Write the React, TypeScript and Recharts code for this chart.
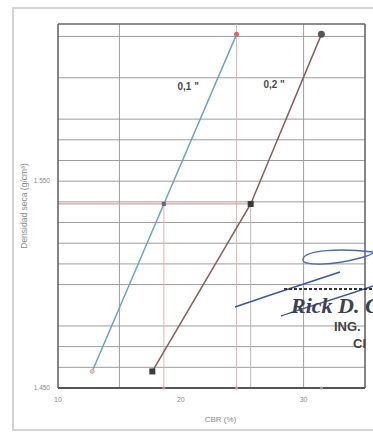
import { LineChart, Line, XAxis, YAxis, CartesianGrid, ReferenceLine, ReferenceDot } from "recharts"

// CBR (%) read at each dry density, for 0.1" and 0.2" penetration
const densidad = [1.458, 1.539, 1.621]
const cbr01 = [12.78, 18.62, 24.54]
const cbr02 = [17.68, 25.69, 31.45]

const xTicks = [10, 20, 30]
const yTicks = [1.45, 1.55]
const yTickLabels = ["1.450", "1.550"]
const xGrid = [15, 30]
const yGrid = [1.46, 1.47, 1.48, 1.5, 1.51, 1.52, 1.53, 1.54, 1.55, 1.56, 1.57, 1.58, 1.6, 1.62]

const serie01 = densidad.map((d, i) => ({ cbr: cbr01[i], dens: d }))
const serie02 = densidad.map((d, i) => ({ cbr: cbr02[i], dens: d }))

const X_DOMAIN: [number, number] = [10, 35]
const Y_DOMAIN: [number, number] = [1.45, 1.626]

const font = "'Liberation Sans', Arial, sans-serif"

const Dot01 = (props: any) => {
  const { cx, cy, index } = props
  if (index === 1) return <rect key={index} x={cx - 2} y={cy - 2} width={4} height={4} fill="#666" />
  if (index === 2) return <circle key={index} cx={cx} cy={cy} r={2.5} fill="#e06666" />
  return <circle key={index} cx={cx} cy={cy} r={2} fill="#f4c4c4" stroke="#d99" strokeWidth={0.8} />
}

const Dot02 = (props: any) => {
  const { cx, cy, index } = props
  if (index === 2) return <circle key={index} cx={cx} cy={cy} r={3.5} fill="#555" />
  return <rect key={index} x={cx - 3} y={cy - 3} width={6} height={6} fill="#3a3a3a" />
}

export default function App() {
  const mid = 1
  return (
    <div style={{ position: "absolute", left: 0, top: 0, width: 373, height: 437, background: "#fff", overflow: "hidden" }}>
      <div
        style={{
          position: "absolute",
          left: 12,
          top: 7,
          width: 380,
          height: 424,
          border: "2px solid #d4d4d4",
          boxSizing: "border-box",
        }}
      />
      <div style={{ position: "absolute", left: 0, top: 0 }}>
        <LineChart width={373} height={437} margin={{ top: 24, right: 8, bottom: 9, left: 0 }}>
          <CartesianGrid
            stroke="#9c9c9c"
            strokeWidth={1}
            horizontalValues={yGrid}
            verticalValues={xGrid}
          />
          <XAxis
            type="number"
            dataKey="cbr"
            domain={X_DOMAIN}
            ticks={xTicks}
            allowDataOverflow
            height={40}
            tickLine={false}
            tickSize={6}
            tickMargin={3}
            axisLine={{ stroke: "#555", strokeWidth: 2.2 }}
            tick={{ fontSize: 7, fill: "#8a8a8a", fontFamily: font }}
            label={{
              value: "CBR (%)",
              position: "insideBottom",
              offset: 6,
              dx: 9,
              style: { fontSize: 8, fill: "#8a8a8a", fontFamily: font },
            }}
          />
          <YAxis
            type="number"
            dataKey="dens"
            domain={Y_DOMAIN}
            ticks={yTicks}
            allowDataOverflow
            width={58}
            tickLine={false}
            tickSize={6}
            tickMargin={2}
            tickFormatter={(v: number) => yTickLabels[yTicks.indexOf(v)] ?? ""}
            axisLine={{ stroke: "#666", strokeWidth: 1.6 }}
            tick={{ fontSize: 6.5, fill: "#8a8a8a", fontFamily: font }}
            label={{
              value: "Densidad seca (g/cm³)",
              angle: -90,
              position: "center",
              dx: -5,
              style: { fontSize: 8.5, fill: "#8a8a8a", fontFamily: font },
            }}
          />
          {/* frame top and right */}
          <ReferenceLine y={Y_DOMAIN[1]} stroke="#666" strokeWidth={1.6} />
          <ReferenceLine x={X_DOMAIN[1]} stroke="#666" strokeWidth={1.6} />

          {/* reading lines */}
          <ReferenceLine x={cbr01[2]} stroke="#eab0b0" strokeWidth={1} />
          <ReferenceLine
            segment={[{ x: X_DOMAIN[0], y: densidad[mid] }, { x: cbr02[mid], y: densidad[mid] }]}
            stroke="#d9a0a0"
            strokeWidth={1.2}
          />
          <ReferenceLine
            segment={[{ x: cbr01[mid], y: Y_DOMAIN[0] }, { x: cbr01[mid], y: densidad[mid] }]}
            stroke="#eab0b0"
            strokeWidth={1}
          />
          <ReferenceLine
            segment={[{ x: cbr02[mid], y: Y_DOMAIN[0] }, { x: cbr02[mid], y: densidad[mid] }]}
            stroke="#bbbbbb"
            strokeWidth={1}
          />
          <ReferenceDot x={cbr01[mid]} y={Y_DOMAIN[0]} r={1.6} fill="#e08080" stroke="none" />
          <ReferenceDot x={cbr01[2]} y={Y_DOMAIN[0]} r={1.6} fill="#e08080" stroke="none" />
          <ReferenceDot x={cbr02[2]} y={Y_DOMAIN[0]} r={1.6} fill="#999" stroke="none" />

          <Line
            data={serie01}
            dataKey="dens"
            type="linear"
            stroke="#6aa3c8"
            strokeWidth={1.5}
            dot={Dot01}
            activeDot={false}
            isAnimationActive={false}
          />
          <Line
            data={serie02}
            dataKey="dens"
            type="linear"
            stroke="#8c5b5b"
            strokeWidth={1.5}
            dot={Dot02}
            activeDot={false}
            isAnimationActive={false}
          />

          <ReferenceDot
            x={20.6}
            y={1.596}
            r={0}
            label={{ value: '0,1 "', position: "center", style: { fontSize: 10, fontWeight: 700, fill: "#4a4a4a", fontFamily: font } }}
          />
          <ReferenceDot
            x={27.6}
            y={1.597}
            r={0}
            label={{ value: '0,2 "', position: "center", style: { fontSize: 10, fontWeight: 700, fill: "#4a4a4a", fontFamily: font } }}
          />
        </LineChart>
      </div>

      {/* stamp and signature */}
      <svg width={373} height={437} style={{ position: "absolute", left: 0, top: 0, pointerEvents: "none" }}>
        <path
          d="M 373 252 C 340 248 305 250 303 259 C 301 267 335 265 360 258 C 368 256 373 254 373 252"
          fill="none"
          stroke="#4a68b8"
          strokeWidth={1.3}
        />
        <path d="M 235 307 C 270 295 310 282 340 272" fill="none" stroke="#3a58a8" strokeWidth={1.6} />
        <path d="M 281 316 C 310 306 345 296 373 286" fill="none" stroke="#3a58a8" strokeWidth={1.4} />
        <line x1={284} y1={289} x2={373} y2={289} stroke="#333" strokeWidth={2.2} strokeDasharray="3 2" />
        <text x={291} y={313} fontFamily="'Liberation Serif', serif" fontStyle="italic" fontWeight={700} fontSize={22} fill="#3d4050">
          Rick D. C
        </text>
        <text x={334} y={331} fontFamily={font} fontWeight={700} fontSize={13} fill="#444">
          ING.
        </text>
        <text x={353} y={348} fontFamily={font} fontWeight={700} fontSize={13} fill="#444">
          CI
        </text>
      </svg>
    </div>
  )
}
